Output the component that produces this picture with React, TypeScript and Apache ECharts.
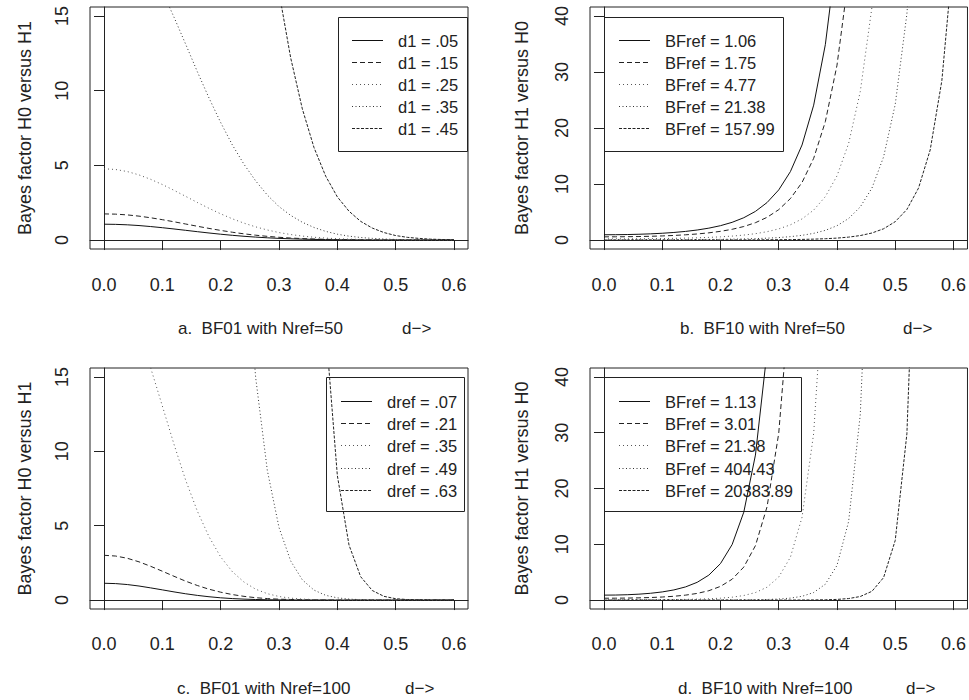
import React, { useEffect, useRef } from "react";
import * as echarts from "echarts";

// ---------- data ----------
const D = [0, 0.02, 0.04, 0.06, 0.08, 0.1, 0.12, 0.14, 0.16, 0.18, 0.2, 0.22, 0.24, 0.26, 0.28, 0.3,
  0.32, 0.34, 0.36, 0.38, 0.4, 0.42, 0.44, 0.46, 0.48, 0.5, 0.52, 0.54, 0.56, 0.58, 0.6];

const X_TICKS = [0, 0.1, 0.2, 0.3, 0.4, 0.5, 0.6];
const Y_TICKS_01 = [0, 5, 10, 15];
const Y_TICKS_10 = [0, 10, 20, 30, 40];

// a. BF01 with Nref=50
const labelsA = ["d1 = .05", "d1 = .15", "d1 = .25", "d1 = .35", "d1 = .45"];
const a1 = [1.06, 1.049, 1.019, 0.969, 0.903, 0.826, 0.74, 0.65, 0.559, 0.472, 0.39, 0.316, 0.251, 0.196, 0.149, 0.111, 0.082, 0.059, 0.042, 0.029, 0.019, 0.013, 0.008, 0.005, 0.003, 0.002, 0.001, 0.001, 0, 0, 0];
const a2 = [1.75, 1.733, 1.682, 1.6, 1.491, 1.363, 1.222, 1.073, 0.922, 0.779, 0.644, 0.522, 0.415, 0.324, 0.247, 0.184, 0.135, 0.097, 0.069, 0.047, 0.032, 0.021, 0.014, 0.009, 0.006, 0.003, 0.002, 0.001, 0.001, 0, 0];
const a3 = [4.77, 4.722, 4.584, 4.36, 4.064, 3.716, 3.329, 2.924, 2.514, 2.123, 1.755, 1.421, 1.13, 0.882, 0.673, 0.501, 0.369, 0.265, 0.187, 0.129, 0.087, 0.058, 0.038, 0.024, 0.015, 0.009, 0.006, 0.003, 0.002, 0.001, 0.001];
const a4 = [21.38, 21.17, 20.55, 19.54, 18.22, 16.65, 14.92, 13.11, 11.27, 9.51, 7.87, 6.37, 5.07, 3.96, 3.01, 2.24, 1.65, 1.19, 0.84, 0.58, 0.39, 0.26, 0.17, 0.11, 0.07, 0.04, 0.025, 0.015, 0.008, 0.005, 0.003];
const a5 = [157.99, 156.4, 151.8, 144.4, 134.6, 123.1, 110.3, 96.8, 83.3, 70.3, 58.1, 47.1, 37.4, 29.2, 22.3, 16.6, 12.2, 8.78, 6.19, 4.28, 2.89, 1.93, 1.25, 0.8, 0.5, 0.3, 0.18, 0.11, 0.06, 0.035, 0.019];

// b. BF10 with Nref=50
const labelsB = ["BFref = 1.06", "BFref = 1.75", "BFref = 4.77", "BFref = 21.38", "BFref = 157.99"];
const b1 = [0.943, 0.953, 0.982, 1.032, 1.108, 1.211, 1.352, 1.54, 1.789, 2.121, 2.564, 3.163, 3.982, 5.112, 6.697, 8.951, 12.21, 16.97, 24.08, 34.88, 51.51, 77.6, 119.3, 187.1, 299.3, 488.7, 813.8, 1383, 2397, 4237, 7644];
const b2 = [0.571, 0.577, 0.595, 0.625, 0.671, 0.734, 0.819, 0.933, 1.083, 1.285, 1.553, 1.916, 2.412, 3.097, 4.057, 5.422, 7.394, 10.28, 14.59, 21.13, 31.2, 47.0, 72.3, 113.3, 181.3, 296, 493, 838, 1452, 2566, 4630];
const b3 = [0.21, 0.212, 0.218, 0.229, 0.246, 0.269, 0.3, 0.342, 0.397, 0.471, 0.57, 0.703, 0.885, 1.136, 1.488, 1.989, 2.713, 3.771, 5.352, 7.75, 11.45, 17.25, 26.52, 41.57, 66.5, 108.6, 180.8, 307.3, 532.6, 941.4, 1699];
const b4 = [0.047, 0.047, 0.049, 0.051, 0.055, 0.06, 0.067, 0.076, 0.089, 0.105, 0.127, 0.157, 0.197, 0.253, 0.332, 0.444, 0.605, 0.841, 1.194, 1.729, 2.554, 3.848, 5.917, 9.275, 14.84, 24.23, 40.35, 68.57, 118.8, 210.1, 379.0];
const b5 = [0.0063, 0.0064, 0.0066, 0.0069, 0.0074, 0.0081, 0.0091, 0.0103, 0.012, 0.0142, 0.0172, 0.0212, 0.0267, 0.0343, 0.0449, 0.0601, 0.0819, 0.1139, 0.1616, 0.234, 0.3456, 0.5208, 0.8007, 1.255, 2.009, 3.279, 5.46, 9.28, 16.08, 28.43, 51.29];

// c. BF01 with Nref=100
const labelsC = ["dref = .07", "dref = .21", "dref = .35", "dref = .49", "dref = .63"];
const c1 = [1.13, 1.107, 1.043, 0.944, 0.82, 0.686, 0.55, 0.424, 0.314, 0.224, 0.153, 0.1, 0.063, 0.038, 0.022, 0.013, 0.007, 0.003, 0.002, 0.001, 0, 0, 0, 0, 0, 0, 0, 0, 0, 0, 0];
const c2 = [3.01, 2.96, 2.81, 2.57, 2.27, 1.94, 1.6, 1.27, 0.98, 0.73, 0.53, 0.37, 0.25, 0.16, 0.1, 0.06, 0.04, 0.02, 0.01, 0.01, 0, 0, 0, 0, 0, 0, 0, 0, 0, 0, 0];
const c3 = [21.5, 21.07, 19.84, 17.95, 15.61, 13.05, 10.47, 8.06, 5.98, 4.26, 2.9, 1.91, 1.21, 0.73, 0.43, 0.24, 0.13, 0.066, 0.033, 0.016, 0.007, 0.003, 0.001, 0.001, 0, 0, 0, 0, 0, 0, 0];
const c4 = [440, 431.2, 406.1, 367.4, 319.4, 267.1, 214.3, 165.0, 122.3, 87.1, 59.4, 39.1, 24.7, 14.96, 8.71, 4.88, 2.63, 1.36, 0.67, 0.32, 0.15, 0.065, 0.028, 0.011, 0.004, 0.002, 0.001, 0, 0, 0, 0];
const c5 = [25000, 24500, 23075, 20875, 18150, 15175, 12175, 9375, 6950, 4950, 3375, 2223, 1403, 850, 495, 278, 150, 77.3, 38.3, 18.3, 8.38, 3.7, 1.57, 0.64, 0.25, 0.093, 0.034, 0.012, 0.004, 0.001, 0];

// d. BF10 with Nref=100
const labelsD = ["BFref = 1.13", "BFref = 3.01", "BFref = 21.38", "BFref = 404.43", "BFref = 20383.89"];
const d1 = [0.885, 0.903, 0.958, 1.059, 1.219, 1.459, 1.818, 2.358, 3.183, 4.472, 6.539, 9.956, 15.76, 25.99, 44.6, 79.66, 148.1, 286.5, 576.9, 1209, 2638, 5989, 14154, 34838, 89124, 237467, 658584, 1900000, 5710000, 17800000, 58100000];
const d2 = [0.332, 0.339, 0.36, 0.398, 0.457, 0.548, 0.682, 0.885, 1.195, 1.679, 2.455, 3.737, 5.917, 9.757, 16.74, 29.91, 55.58, 107.6, 216.6, 453.8, 990.4, 2249, 5314, 13079, 33458, 89148, 247243, 714286, 2140000, 6690000, 21800000];
const d3 = [0.046, 0.047, 0.05, 0.055, 0.063, 0.076, 0.094, 0.122, 0.165, 0.232, 0.339, 0.516, 0.817, 1.347, 2.312, 4.129, 7.674, 14.85, 29.9, 62.66, 136.7, 310.5, 733.7, 1806, 4620, 12309, 34138, 98624, 295872, 924312, 3010000];
const d4 = [0.0021, 0.0021, 0.0023, 0.0025, 0.0029, 0.0034, 0.0043, 0.0056, 0.0075, 0.011, 0.015, 0.023, 0.037, 0.061, 0.105, 0.188, 0.349, 0.675, 1.36, 2.85, 6.21, 14.1, 33.3, 82.0, 210, 559, 1550, 4479, 13438, 41979, 136792];
const d5 = [0.00004, 0.00004, 0.00004, 0.00005, 0.00006, 0.00007, 0.00008, 0.00011, 0.00014, 0.0002, 0.0003, 0.00045, 0.00071, 0.0012, 0.002, 0.0036, 0.0067, 0.013, 0.026, 0.055, 0.119, 0.271, 0.64, 1.57, 4.03, 10.7, 29.8, 86.0, 258, 806, 2626];

// ---------- styling ----------
const FONT = '"Liberation Sans", Arial, Helvetica, sans-serif';
const INK = "#222";
const STYLES: { dash: number[] | null; color: string }[] = [
  { dash: null, color: "#111" },
  { dash: [5, 3], color: "#222" },
  { dash: [1, 3], color: "#555" },
  { dash: [1, 2.5], color: "#333" },
  { dash: [3, 1.5], color: "#222" },
];

const PANELS = [
  { grid: { left: 90, top: 7, width: 378, height: 242 }, ymin: -0.6, ymax: 15.6, yticks: Y_TICKS_01,
    yname: "Bayes factor H0 versus H1", nameGap: 56, xMargin: 27, series: [a1, a2, a3, a4, a5], labels: labelsA,
    legend: { x: 338.5, y: 17.5, w: 129, h: 134, lx1: 352, lx2: 383, tx: 398, y0: 40, dy: 22.1 },
    title: { text: "a.\u00a0\u00a0BF01 with Nref=50", x: 178, tail: 402, y: 328 } },
  { grid: { left: 590, top: 7, width: 378, height: 242 }, ymin: -1.6, ymax: 41.6, yticks: Y_TICKS_10,
    yname: "Bayes factor H1 versus H0", nameGap: 59, xMargin: 27, series: [b1, b2, b3, b4, b5], labels: labelsB,
    legend: { x: 604.5, y: 17.5, w: 179, h: 134, lx1: 619, lx2: 650, tx: 665, y0: 40, dy: 22.1 },
    title: { text: "b.\u00a0\u00a0BF10 with Nref=50", x: 680, tail: 903, y: 328 } },
  { grid: { left: 90, top: 368, width: 378, height: 241 }, ymin: -0.6, ymax: 15.6, yticks: Y_TICKS_01,
    yname: "Bayes factor H0 versus H1", nameGap: 56, xMargin: 26, series: [c1, c2, c3, c4, c5], labels: labelsC,
    legend: { x: 326.5, y: 377.5, w: 138, h: 134, lx1: 341, lx2: 372, tx: 387, y0: 401, dy: 22.2 },
    title: { text: "c.\u00a0\u00a0BF01 with Nref=100", x: 177, tail: 405, y: 688 } },
  { grid: { left: 590, top: 368, width: 378, height: 241 }, ymin: -1.6, ymax: 41.6, yticks: Y_TICKS_10,
    yname: "Bayes factor H1 versus H0", nameGap: 59, xMargin: 26, series: [d1, d2, d3, d4, d5], labels: labelsD,
    legend: { x: 604.5, y: 377.5, w: 197, h: 134, lx1: 619, lx2: 650, tx: 665, y0: 401, dy: 22.2 },
    title: { text: "d.\u00a0\u00a0BF10 with Nref=100", x: 678, tail: 906, y: 688 } },
];

// Points that lie far outside the plot (beyond the first point past the top edge) are
// dropped: they would be clipped anyway, and huge coordinates break SVG dash rendering.
function toSeriesData(vals: number[], ymax: number) {
  const inside = (v: number | undefined) => v !== undefined && v <= ymax;
  return D.map((d, j) => {
    const v = vals[j];
    if (inside(v) || inside(vals[j - 1]) || inside(vals[j + 1])) return [d, v];
    return [d, null];
  });
}

function buildOption() {
  const grid: any[] = [];
  const xAxis: any[] = [];
  const yAxis: any[] = [];
  const series: any[] = [];
  const graphic: any[] = [];

  PANELS.forEach((p, i) => {
    grid.push({ ...p.grid, show: true, borderColor: INK, borderWidth: 1, backgroundColor: "transparent", containLabel: false });
    xAxis.push({
      type: "value", gridIndex: i, min: -0.024, max: 0.624,
      axisLine: { show: true, lineStyle: { color: INK, width: 1 } },
      axisTick: { show: true, length: 10, lineStyle: { color: INK, width: 1 }, customValues: X_TICKS },
      axisLabel: { customValues: X_TICKS, formatter: (v: number) => v.toFixed(1), fontSize: 18, color: INK, fontFamily: FONT, margin: p.xMargin },
      splitLine: { show: false },
    });
    yAxis.push({
      type: "value", gridIndex: i, min: p.ymin, max: p.ymax,
      name: p.yname, nameLocation: "middle", nameGap: p.nameGap, nameRotate: 90,
      nameTextStyle: { fontSize: 18, color: INK, fontFamily: FONT },
      axisLine: { show: true, lineStyle: { color: INK, width: 1 } },
      axisTick: { show: true, length: 10, lineStyle: { color: INK, width: 1 }, customValues: p.yticks },
      axisLabel: { customValues: p.yticks, formatter: (v: number) => String(v), rotate: 90, fontSize: 18, color: INK, fontFamily: FONT, margin: 19 },
      splitLine: { show: false },
    });
    p.series.forEach((vals, k) => {
      series.push({
        type: "line", name: p.labels[k], xAxisIndex: i, yAxisIndex: i,
        data: toSeriesData(vals, p.ymax),
        connectNulls: false,
        symbol: "none", showSymbol: false, clip: true, silent: true,
        lineStyle: { width: 1, color: STYLES[k].color, type: STYLES[k].dash ? STYLES[k].dash : "solid" },
      });
    });
    const L = p.legend;
    graphic.push({ type: "rect", shape: { x: L.x, y: L.y, width: L.w, height: L.h }, style: { fill: "none", stroke: INK, lineWidth: 1 }, silent: true });
    p.labels.forEach((lab, k) => {
      const yy = Math.round(L.y0 + k * L.dy) + 0.5;
      graphic.push({ type: "line", shape: { x1: L.lx1, y1: yy, x2: L.lx2, y2: yy },
        style: { stroke: STYLES[k].color, lineWidth: 1, lineDash: STYLES[k].dash || undefined }, silent: true });
      graphic.push({ type: "text", x: L.tx, y: yy, style: { text: lab, fontSize: 16.5, fontFamily: FONT, fill: INK, align: "left", verticalAlign: "middle" }, silent: true });
    });
    graphic.push({ type: "text", x: p.title.x, y: p.title.y, style: { text: p.title.text, fontSize: 17, fontFamily: FONT, fill: INK, align: "left", verticalAlign: "middle" }, silent: true });
    graphic.push({ type: "text", x: p.title.tail, y: p.title.y, style: { text: "d\u2212>", fontSize: 17, fontFamily: FONT, fill: INK, align: "left", verticalAlign: "middle" }, silent: true });
  });

  return { animation: false, backgroundColor: "#fff", grid, xAxis, yAxis, series, graphic };
}

export default function App() {
  const ref = useRef<HTMLDivElement>(null);
  useEffect(() => {
    if (!ref.current) return;
    const chart = echarts.init(ref.current, undefined, { renderer: "svg" });
    chart.setOption(buildOption());
    return () => chart.dispose();
  }, []);
  return <div ref={ref} style={{ position: "fixed", left: 0, top: 0, width: 969, height: 700, background: "#fff" }} />;
}
